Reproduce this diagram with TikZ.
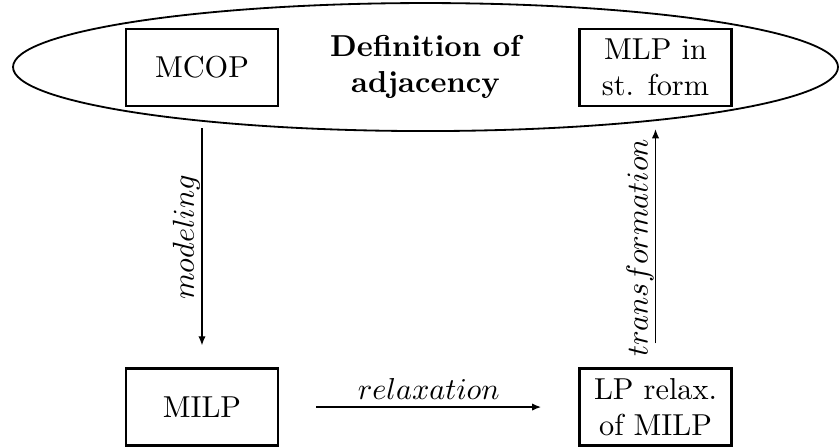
\documentclass[tikz,border=0pt]{standalone}
\usepackage{amsmath}
\usetikzlibrary{shapes.geometric, arrows.meta, positioning}

\tikzset{
  probbox/.style={draw, thick, minimum width=1.763cm, minimum height=0.893cm, align=center, inner sep=1pt},
  steparrow/.style={-{Latex[length=3pt,width=2.4pt]}, thin},
  steplabel/.style={inner sep=0.5pt},
}

\begin{document}
\begin{tikzpicture}
    \useasboundingbox (0,0) rectangle (9.744,5.174);

    % Definition of adjacency
    \node[draw, semithick, ellipse, minimum width=9.57cm, minimum height=1.485cm,
          inner sep=0pt, align=center, font=\bfseries] (adj) at (4.936,4.396) {Definition of\\adjacency};

    % Problems
    \node[probbox] (mcop) at (2.343,4.391) {MCOP};
    \node[probbox] (mlp) at (7.604,4.391) {MLP in\\st. form};
    \node[probbox] (milp) at (2.343,0.452) {MILP};
    \node[probbox] (lp) at (7.604,0.452) {LP relax.\\of MILP};

    % Steps between problems
    \draw[steparrow, shorten <=0.244cm, shorten >=0.255cm] (mcop) -- node[steplabel, midway, rotate=90, above] {$modeling$} (milp);
    \draw[steparrow, thick, shorten <=0.429cm, shorten >=0.429cm] (milp) -- node[steplabel, midway, above, inner sep=2pt] {$relaxation$} (lp);
    \draw[steparrow, shorten <=0.278cm, shorten >=0.255cm] (lp) -- node[steplabel, pos=0.46, rotate=90, above] {$transformation$} (mlp);

\end{tikzpicture}
\end{document}
